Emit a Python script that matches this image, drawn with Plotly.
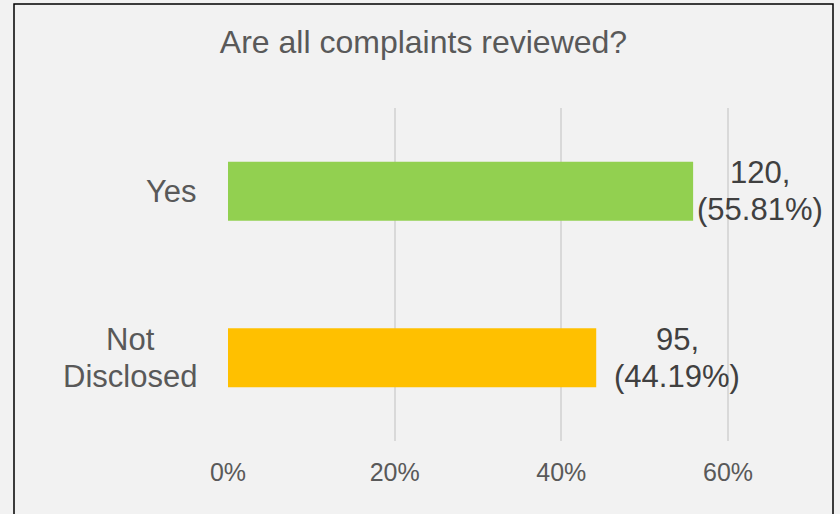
import plotly.graph_objects as go

# Survey answers and their counts
categories = ["Yes", "Not Disclosed"]
counts = [120, 95]
bar_colors = ["#92D050", "#FFC000"]
tick_values = [0, 0.2, 0.4, 0.6]
tick_labels = ["0%", "20%", "40%", "60%"]
title_text = "Are all complaints reviewed?"

total = sum(counts)
shares = [c / total for c in counts]

FONT = "Liberation Sans, Arial, sans-serif"
BG = "#F2F2F2"
W, H = 840, 514
ML, MR, MT, MB = 228, 12, 108, 73
PW, PH = W - ML - MR, H - MT - MB
LINE_GAP = 36.7  # px between stacked text lines

fig = go.Figure(
    go.Bar(
        x=shares,
        y=categories,
        orientation="h",
        marker=dict(color=bar_colors, line=dict(width=0)),
        width=0.355,
        hoverinfo="skip",
    )
)


def stacked_text(lines, x, y, xref, xanchor, xshift, font):
    """Place lines one under another, centred on y, with a fixed line gap."""
    n = len(lines)
    for i, line in enumerate(lines):
        fig.add_annotation(
            x=x, y=y, xref=xref, yref="y", text=line,
            showarrow=False, xanchor=xanchor, yanchor="middle",
            xshift=xshift, yshift=((n - 1) / 2 - i) * LINE_GAP,
            font=font,
        )


# value labels next to each bar: count and percentage on two lines
value_font = dict(family=FONT, size=31, color="#404040")
value_center_shift = [67, 81]
for cat, cnt, share, dx in zip(categories, counts, shares, value_center_shift):
    stacked_text([f"{cnt},", f"({share * 100:.2f}%)"], share, cat, "x",
                 "center", dx, value_font)

# category labels to the left of the plot, lines centred on each other
cat_font = dict(family=FONT, size=31, color="#595959")
cat_center_shift = [-56.5, -98]
for cat, dx in zip(categories, cat_center_shift):
    stacked_text(cat.split(" "), 0, cat, "paper", "center", dx, cat_font)


def px_x(p):
    return (p - ML) / PW


def px_y(p):
    return (H - MB - p) / PH


# chart frame
fig.add_shape(
    type="rect", xref="paper", yref="paper",
    x0=px_x(14), x1=px_x(833), y0=px_y(530), y1=px_y(4),
    line=dict(color="#000000", width=1.5), fillcolor="rgba(0,0,0,0)",
    layer="above",
)

fig.update_layout(
    width=W, height=H,
    margin=dict(l=ML, r=MR, t=MT, b=MB),
    paper_bgcolor=BG, plot_bgcolor=BG,
    showlegend=False,
    title=dict(
        text=title_text, x=423.5 / W, xref="container", xanchor="center",
        y=1 - 42 / H, yref="container", yanchor="middle",
        font=dict(family=FONT, size=32, color="#595959"),
    ),
    xaxis=dict(
        range=[0, PW / (500 / 0.6)],
        tickvals=tick_values, ticktext=tick_labels,
        showgrid=True, gridcolor="#D9D9D9", gridwidth=1.5,
        zeroline=False, showline=False, ticks="",
        ticklabelstandoff=14,
        tickfont=dict(family=FONT, size=25, color="#595959"),
    ),
    yaxis=dict(
        categoryorder="array", categoryarray=categories,
        autorange="reversed",
        showticklabels=False, showgrid=False, zeroline=False, showline=False,
    ),
)

fig.write_html("out.html")
